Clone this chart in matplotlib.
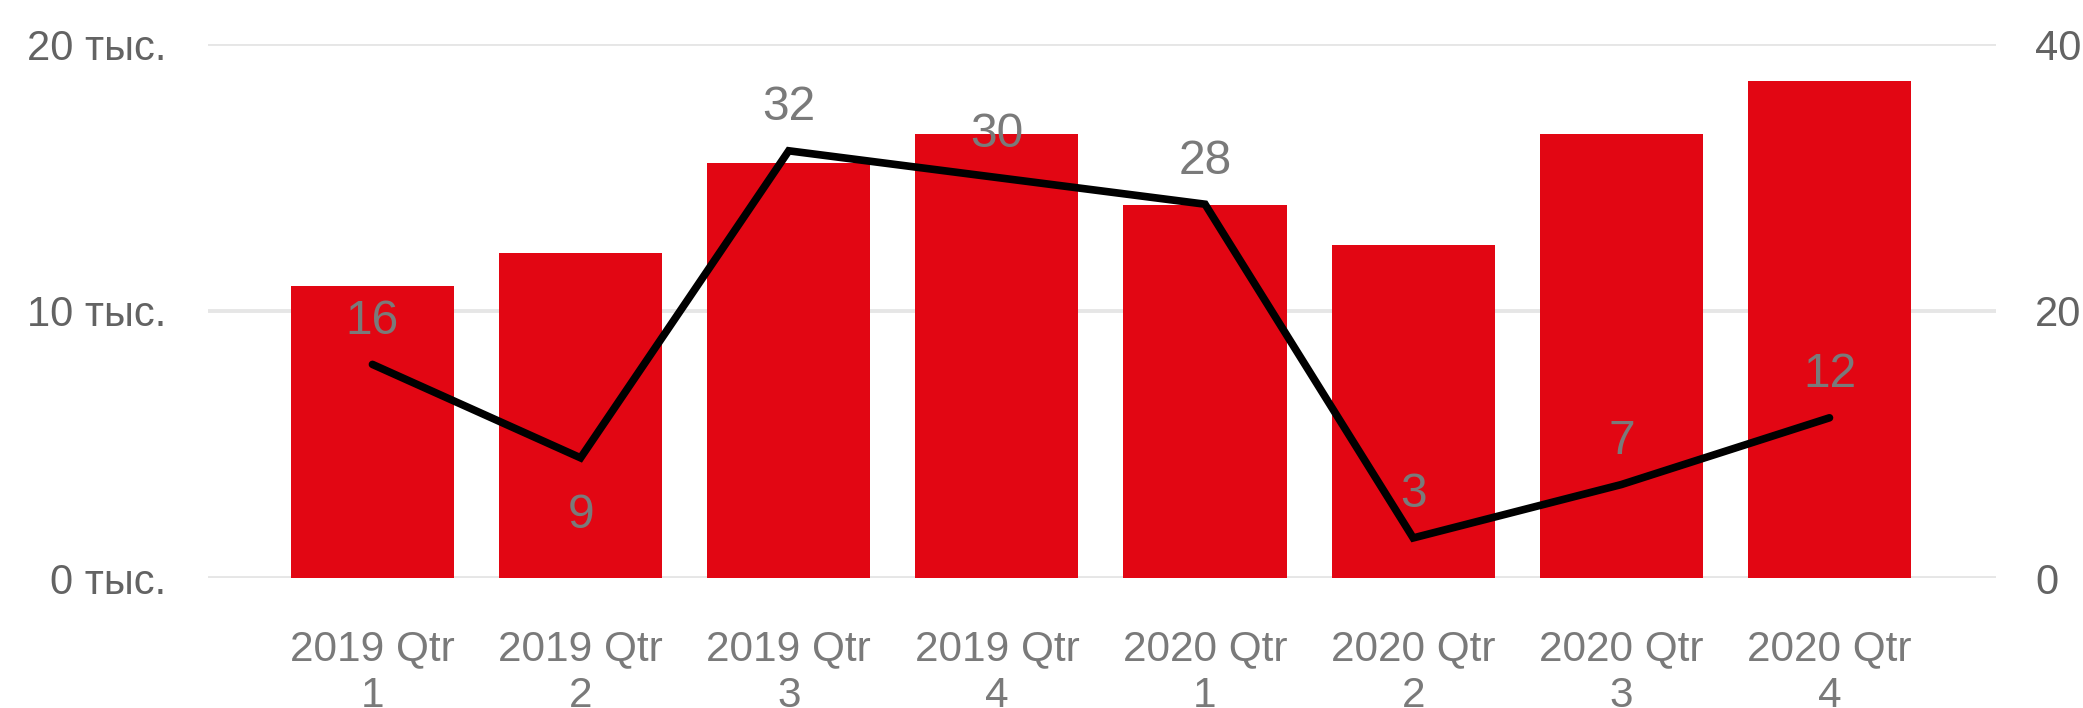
import matplotlib
matplotlib.use("Agg")
import matplotlib.pyplot as plt
from matplotlib.ticker import FuncFormatter, FixedLocator

plt.rcParams['font.family'] = ['Liberation Sans', 'DejaVu Sans']

# Quarterly data
quarters = ["2019 Qtr\n1", "2019 Qtr\n2", "2019 Qtr\n3", "2019 Qtr\n4",
            "2020 Qtr\n1", "2020 Qtr\n2", "2020 Qtr\n3", "2020 Qtr\n4"]
volume = [10950, 12190, 15550, 16630, 13980, 12480, 16630, 18610]
rate = [16, 9, 32, 30, 28, 3, 7, 12]
rate_label_below = [False, True, False, False, False, False, False, False]
left_ticks = [0, 10000, 20000]
right_ticks = [0, 20, 40]

BAR = "#e20613"
GRID = "#e6e6e6"
TICK_GREY = "#636363"
LABEL_GREY = "#7a7a7a"

W, H = 2083, 708
fig = plt.figure(figsize=(W / 100, H / 100), dpi=100)
left, right, top, bottom = 208, 1996, 44, 578
ax = fig.add_axes([left / W, 1 - bottom / H, (right - left) / W, (bottom - top) / H])
ax2 = ax.twinx()

x = list(range(len(quarters)))

ax.set_axisbelow(True)
ax.yaxis.grid(True, color=GRID, linewidth=2.8)
ax.bar(x, volume, width=0.784, color=BAR, zorder=2)
ax.set_ylim(0, 20000)
ax.set_xlim(-0.79, 7.8)
ax.yaxis.set_major_locator(FixedLocator(left_ticks))
ax.yaxis.set_major_formatter(FuncFormatter(lambda v, p: f"{int(v / 1000)} тыс."))

ax.set_xticks(x)
ax.set_xticklabels(quarters, fontsize=30.5, color=LABEL_GREY, linespacing=1.2)
ax.tick_params(axis='x', length=0, pad=37)
ax.tick_params(axis='y', length=0, pad=30, labelsize=30, labelcolor=TICK_GREY)

ax2.plot(x, rate, color="black", linewidth=5.5, solid_capstyle='round',
         solid_joinstyle='miter', zorder=3)
ax2.set_ylim(0, 40)
ax2.yaxis.set_major_locator(FixedLocator(right_ticks))
ax2.tick_params(axis='y', length=0, pad=28, labelsize=30, labelcolor=TICK_GREY)

# value labels: baseline offset so the digits sit centred above / below the point
for xi, v, below in zip(x, rate, rate_label_below):
    ax2.annotate(str(v), (xi, v), xytext=(0, -50.5 if below else 22),
                 textcoords='offset points', ha='center', va='baseline',
                 fontsize=34.5, color=LABEL_GREY, zorder=4)

for a in (ax, ax2):
    for s in a.spines.values():
        s.set_visible(False)

fig.savefig("out.png", dpi=100, facecolor="white")
